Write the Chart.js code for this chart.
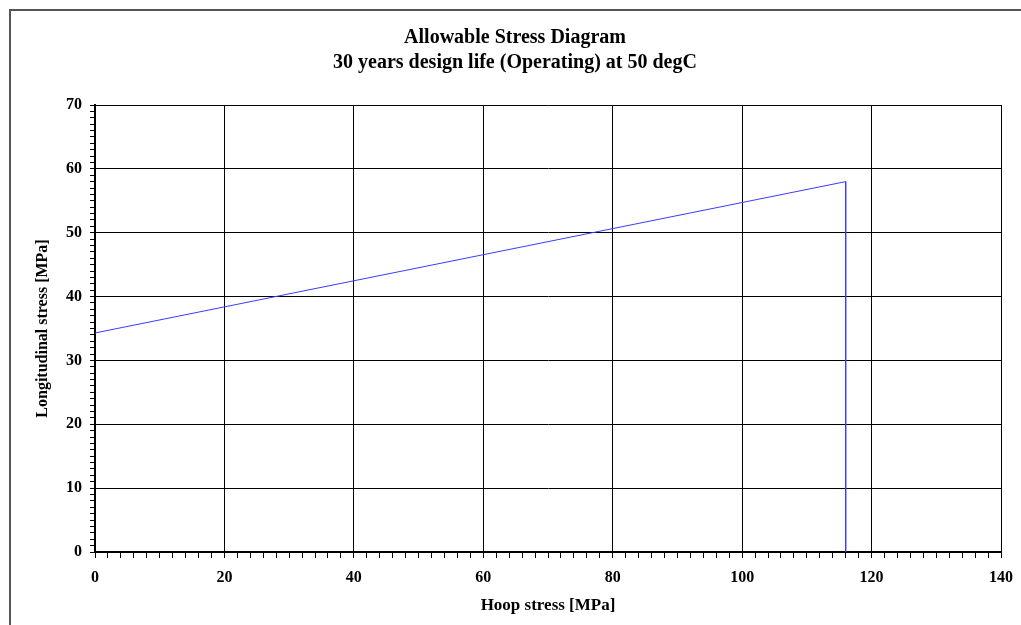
<!DOCTYPE html>
<html>
<head>
<meta charset="utf-8">
<script src="https://cdn.jsdelivr.net/npm/chart.js@4.4.0/dist/chart.umd.min.js"></script>
<style>
    body { margin: 0; background: #fff; overflow: hidden; }
    #wrap { position: relative; width: 1021px; height: 625px; }
    #frame {
        position: absolute; left: 9px; top: 9px; width: 1100px; height: 700px;
        border-left: 2px solid #555; border-top: 2px solid #555;
        pointer-events: none;
    }
</style>
</head>
<body>
<div id="wrap">
    <canvas id="stressChart" width="1021" height="625"></canvas>
    <div id="frame"></div>
</div>
<script>
// Allowable stress envelope (hoop vs longitudinal)
const hoopStress = [0, 116, 116];
const longStress = [34.3, 58, 0];

const titleLines = ['Allowable Stress Diagram', '30 years design life (Operating) at 50 degC'];
const xTitle = 'Hoop stress [MPa]';
const yTitle = 'Longitudinal stress [MPa]';

const serif = "'Liberation Serif', 'Times New Roman', serif";

const points = hoopStress.map((x, i) => ({ x: x, y: longStress[i] }));

const ctx = document.getElementById('stressChart').getContext('2d');
new Chart(ctx, {
    type: 'scatter',
    data: {
        datasets: [{
            data: points,
            showLine: true,
            borderColor: '#3b3bff',
            borderWidth: 1,
            pointRadius: 0,
            tension: 0
        }]
    },
    options: {
        responsive: false,
        animation: false,
        layout: { padding: { left: 9, right: 0, top: 0, bottom: 0 } },
        plugins: {
            legend: { display: false },
            tooltip: { enabled: false },
            title: {
                display: true,
                text: titleLines,
                color: '#000',
                font: { family: serif, size: 20, weight: 'bold', lineHeight: '25px' },
                padding: { top: 25, bottom: 30 }
            }
        },
        scales: {
            x: {
                type: 'linear',
                min: 0,
                max: 140,
                afterFit: scale => {
                    scale.height = 73;
                    scale.paddingRight = 0;
                },
                ticks: {
                    stepSize: 2,
                    autoSkip: false,
                    maxRotation: 0,
                    color: '#000',
                    padding: 10,
                    font: { family: serif, size: 16, weight: 'bold' },
                    callback: v => (v % 20 === 0 ? v : '')
                },
                grid: {
                    color: c => (c.tick && c.tick.value % 20 === 0 ? '#000' : 'rgba(0,0,0,0)'),
                    tickColor: '#000',
                    tickLength: 6,
                    lineWidth: 1
                },
                border: { color: '#000', width: 2 },
                title: {
                    display: true,
                    text: xTitle,
                    color: '#000',
                    font: { family: serif, size: 17, weight: 'bold' },
                    padding: { top: 0, bottom: 9 }
                }
            },
            y: {
                type: 'linear',
                min: 0,
                max: 70,
                afterFit: scale => { scale.width = 86; },
                ticks: {
                    stepSize: 1,
                    autoSkip: false,
                    color: '#000',
                    padding: 8,
                    font: { family: serif, size: 16, weight: 'bold' },
                    callback: v => (v % 10 === 0 ? v : '')
                },
                grid: {
                    color: c => (c.tick && c.tick.value % 10 === 0 ? '#000' : 'rgba(0,0,0,0)'),
                    tickColor: '#000',
                    tickLength: 5,
                    lineWidth: 1
                },
                border: { color: '#000', width: 2 },
                title: {
                    display: true,
                    text: yTitle,
                    color: '#000',
                    font: { family: serif, size: 16, weight: 'bold' },
                    padding: { top: 24, bottom: 0 }
                }
            },
            // empty spacer axis on the right so the title centres like the original
            spacer: {
                type: 'linear',
                position: 'right',
                min: 0,
                max: 70,
                afterFit: scale => { scale.width = 20; },
                ticks: { display: false },
                grid: { drawOnChartArea: false, drawTicks: false },
                border: { display: false }
            }
        }
    }
});
</script>
</body>
</html>
